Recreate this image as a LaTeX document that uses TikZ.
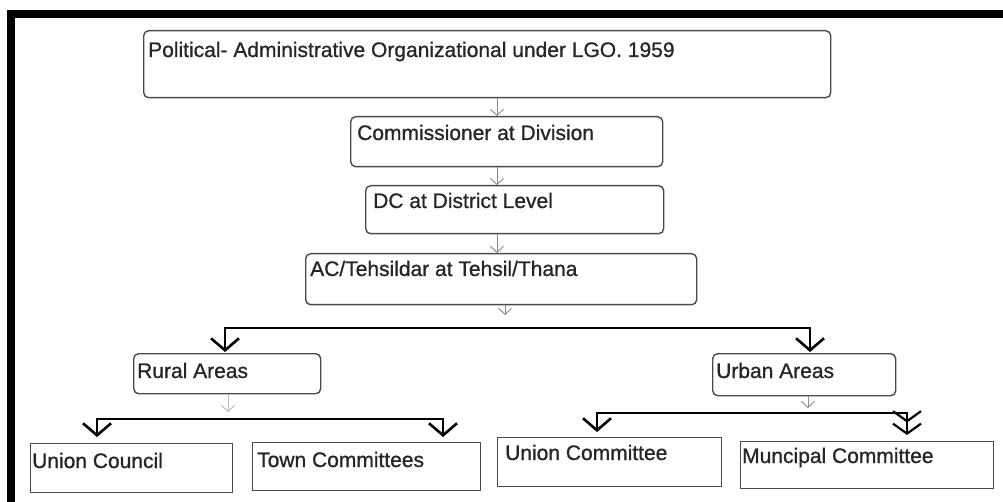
\documentclass[tikz,border=0pt]{standalone}
\usepackage{fontspec}
\setmainfont{Liberation Sans}
\newfontfamily\lblfont{Liberation Sans}[FakeBold=0.9]
\usetikzlibrary{arrows.meta}
\definecolor{boxc}{HTML}{4A4A4A}
\definecolor{thinc}{HTML}{8A8A8A}
\begin{document}
\begin{tikzpicture}[x=1pt,y=-1pt,
  rbox/.style={draw=boxc,line width=1.4pt,rounded corners=5pt,anchor=north west,inner sep=0pt},
  sbox/.style={draw=boxc,line width=1.4pt,anchor=north west,inner sep=0pt},
  lbl/.style={anchor=base west,inner sep=0pt,text=black!85,font=\lblfont\fontsize{21}{24}\selectfont},
  small/.style={draw=thinc,line width=0.9pt,-{Straight Barb[length=6pt,width=13pt]}},
  big/.style={draw=black,line width=2.6pt,-{Straight Barb[length=12pt,width=28pt,line width=2.6pt]}},
  bigdbl/.style={draw=black,line width=2.6pt,-{Straight Barb[length=10pt,width=28pt,line width=2.2pt]Straight Barb[length=10pt,width=28pt,line width=2.2pt]}}
]
\useasboundingbox (0,0) rectangle (1003,502);
% frame
\draw[line width=8pt,line cap=butt] (11,502) -- (11,14) -- (1003,14);
% boxes
\node[rbox,minimum width=687pt,minimum height=67pt] (pol) at (143,30) {};
\node[rbox,minimum width=312pt,minimum height=50pt] (com) at (350,116) {};
\node[rbox,minimum width=298pt,minimum height=48pt] (dc) at (365,185) {};
\node[rbox,minimum width=391pt,minimum height=51pt] (ac) at (305,253) {};
\node[rbox,minimum width=187pt,minimum height=40pt] (ra) at (133,353) {};
\node[rbox,minimum width=183pt,minimum height=42pt] (ua) at (712,353) {};
\node[sbox,minimum width=202pt,minimum height=49pt] (uc) at (30,443) {};
\node[sbox,minimum width=228pt,minimum height=48pt] (tc) at (252,442) {};
\node[sbox,minimum width=224pt,minimum height=49pt] (ucm) at (497,437) {};
\node[sbox,minimum width=253pt,minimum height=47pt] (mc) at (740,441) {};
% texts
\node[lbl] (polt) at (148,57) {Political- Administrative Organizational under LGO. 1959};
\node[lbl] (comt) at (357,140) {Commissioner at Division};
\node[lbl] (dct) at (373,208) {DC at District Level};
\node[lbl] (act) at (310,276) {AC/Tehsildar at Tehsil/Thana};
\node[lbl] (rat) at (137,378) {Rural Areas};
\node[lbl] (uat) at (716,378) {Urban Areas};
\node[lbl] (uct) at (32,468) {Union Council};
\node[lbl] (tct) at (257,467) {Town Committees};
\node[lbl] (ucmt) at (505,460) {Union Committee};
\node[lbl] (mct) at (742,463) {Muncipal Committee};
% small arrows
\coordinate (xa) at (497,0);
\draw[small] (pol.south -| xa) -- (com.north -| xa);
\draw[small] (com.south -| xa) -- (dc.north -| xa);
\draw[small] (dc.south -| xa) -- (ac.north -| xa);
\coordinate (acb) at (505,315);
\draw[small] (ac.south -| acb) -- (acb);
\coordinate (rab) at (228,412);
\draw[small,draw=thinc!60] (ra.south -| rab) -- (rab);
\coordinate (uab) at (808,408);
\draw[small] (ua.south -| uab) -- (uab);
% big connectors
\coordinate (bus1) at (505,328);
\coordinate (rx) at (225,352);
\coordinate (ux) at (810,352);
\draw[big] (bus1) -| (rx);
\draw[big] (bus1) -| (ux);
\coordinate (bus2) at (228,419);
\coordinate (ucx) at (97,437);
\coordinate (tcx) at (443,437);
\draw[big] (bus2) -| (ucx);
\draw[big] (bus2) -| (tcx);
\coordinate (bus3) at (808,413);
\coordinate (ucmx) at (597,432);
\coordinate (mcx) at (907,435);
\draw[big] (bus3) -| (ucmx);
\draw[bigdbl] (bus3) -| (mcx);
\end{tikzpicture}
\end{document}
